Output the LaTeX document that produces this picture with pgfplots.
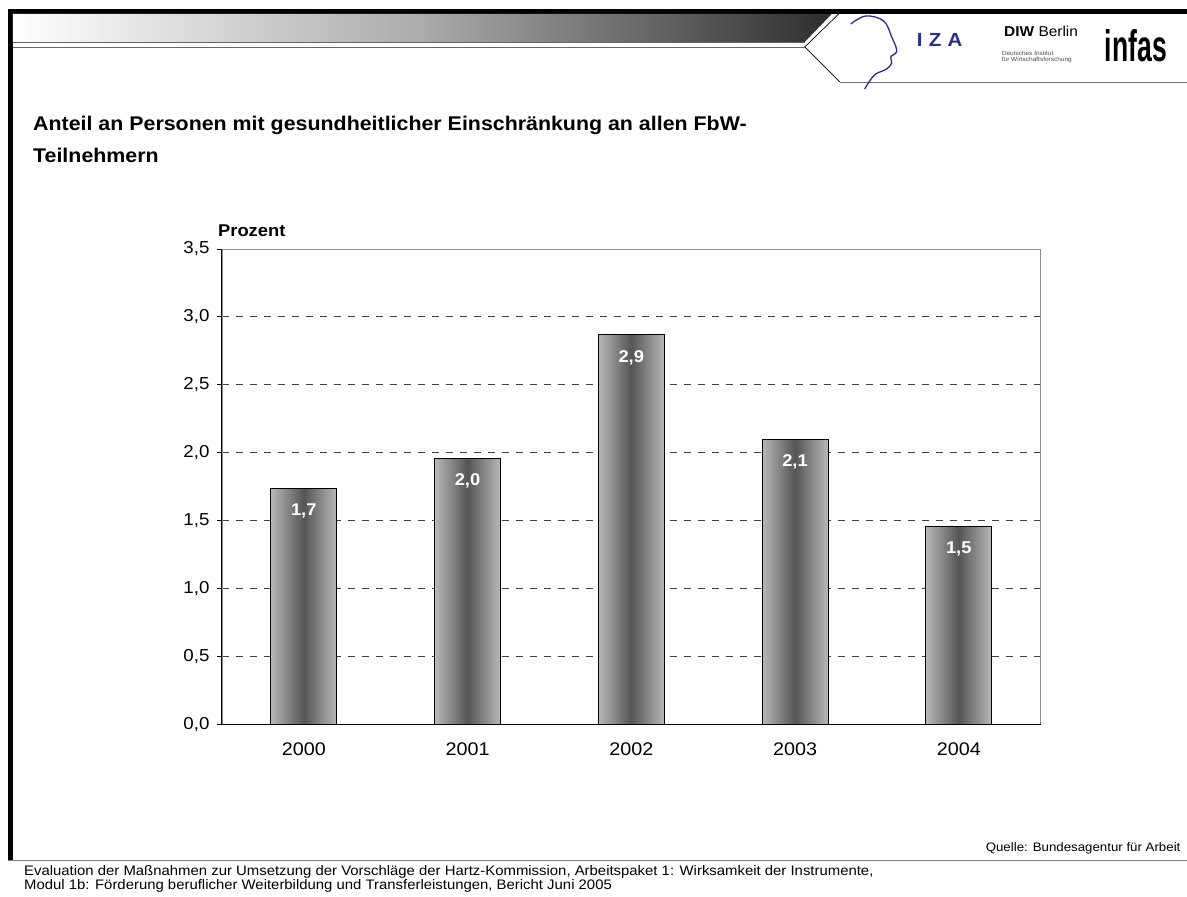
\documentclass[border=0pt]{standalone}
\usepackage{fontspec}
\setmainfont{Liberation Sans}[FakeStretch=1.08]
\usepackage{pgfplots}
\pgfplotsset{compat=1.18}
\usepackage{graphicx}

\definecolor{barEdge}{HTML}{B8B8B8}
\definecolor{barMid}{HTML}{555555}
\definecolor{izaBlue}{HTML}{2A2F8F}

\pgfplotsset{gradbar/.style={ybar, bar width=66pt, draw=black, line width=0.8pt,
  left color=barEdge, right color=barEdge, middle color=barMid,
  nodes near coords, point meta=explicit symbolic,
  every node near coord/.append style={anchor=north, yshift=-12pt, text=white,
    font=\fontsize{17}{18}\selectfont\bfseries}}}

\begin{document}
\begin{tikzpicture}[x=1pt,y=1pt]
% canvas
\path[fill=white] (0,0) rectangle (1187,897);

% header frame
\fill[black] (8,883) rectangle (1187,888);
\fill[black] (8,36) rectangle (13,888);
\shade[left color=white, right color=black!82, middle color=black!33]
  (13,883) -- (832,883) -- (805,855) -- (13,855) -- cycle;
\draw[black!60, line width=1pt] (13,854.5) -- (805,854.5);
\draw[black!60, line width=1pt] (13,849.5) -- (805,849.5);
\draw[black, line width=0.7pt] (839,883) -- (805,850) -- (840,815);
\draw[black!55, line width=0.8pt] (840,815) -- (1187,815);
\draw[black!50, line width=0.6pt] (8,36) -- (1187,36);

% logos
\draw[izaBlue, line width=1.3pt] plot[smooth, tension=0.6] coordinates
  {(851,873) (866,881) (884,876) (892,860) (897,846) (891,840) (892,834) (887,828) (876,823) (870,816) (865,808)};
\node[izaBlue, font=\fontsize{19}{20}\selectfont\bfseries] at (940,857) {I\,\,Z\,\,A};
\node[anchor=base west, font=\fontsize{14.3}{16}\selectfont] at (1001,860) {\textbf{DIW} Berlin};
\node[anchor=base west, black!70, font=\fontsize{6}{7}\selectfont, align=left, inner sep=0pt] at (1002,835)
  {Deutsches Institut\\[-1pt]für Wirtschaftsforschung};
\node[anchor=south west, inner sep=0pt] at (1105,835) {\resizebox{62pt}{32pt}{\bfseries infas}};

% title
\node[anchor=base west, inner sep=0pt, font=\fontsize{19.8}{22}\selectfont\bfseries] at (33,766)
  {Anteil an Personen mit gesundheitlicher Einschränkung an allen FbW-};
\node[anchor=base west, inner sep=0pt, font=\fontsize{19.8}{22}\selectfont\bfseries] at (33,734)
  {Teilnehmern};
\node[anchor=base west, inner sep=0pt, font=\fontsize{17}{18}\selectfont\bfseries] at (218,660) {Prozent};

\begin{axis}[
  at={(222pt,172pt)}, anchor=south west,
  width=819pt, height=476pt, scale only axis,
  xmin=-0.5, xmax=4.5, ymin=0, ymax=3.5,
  axis line style={draw=black!45, line width=0.8pt},
  xtick={0,1,2,3,4},
  xticklabels={2000,2001,2002,2003,2004},
  major x tick style={draw=none},
  extra x ticks={-0.5,0.5,1.5,2.5,3.5,4.5},
  extra x tick labels={},
  extra x tick style={major tick length=6pt, tick align=outside, tick pos=bottom,
    major tick style={draw=black, line width=0.8pt}, grid=none},
  ytick={0,0.5,1,1.5,2,2.5,3,3.5},
  ytick pos=left, tick align=outside, major tick length=5pt,
  major y tick style={draw=black, line width=0.8pt},
  ymajorgrids=true,
  grid style={black!75, line width=0.9pt, dash pattern=on 7pt off 7pt},
  ticklabel style={font=\fontsize{17.3}{18}\selectfont},
  yticklabel style={xshift=-4pt, /pgf/number format/.cd, fixed, fixed zerofill, precision=1,
    use comma, assume math mode=true},
  xticklabel style={font=\fontsize{18.3}{19}\selectfont, yshift=-9pt},
  after end axis/.code={
    \draw[white, line width=1.6pt] (rel axis cs:0,1) -- (rel axis cs:1,1);
    \draw[black!45, line width=0.8pt] (rel axis cs:0,1) -- (rel axis cs:1,1) -- (rel axis cs:1,0);
    \draw[black, line width=1pt] (rel axis cs:0,1) -- (rel axis cs:0,0) -- (rel axis cs:1,0);
  },
]
\addplot[gradbar] coordinates {(0,1.74) [1,7]};
\addplot[gradbar] coordinates {(1,1.96) [2,0]};
\addplot[gradbar] coordinates {(2,2.87) [2,9]};
\addplot[gradbar] coordinates {(3,2.10) [2,1]};
\addplot[gradbar] coordinates {(4,1.46) [1,5]};
\end{axis}

% source and footer
\node[anchor=base east, inner sep=0pt, font=\fontsize{12.3}{13}\selectfont] at (1181,45)
  {Quelle: Bundesagentur für Arbeit};
\node[anchor=base west, inner sep=0pt, font=\fontsize{13.8}{14}\selectfont] at (24,21)
  {Evaluation der Maßnahmen zur Umsetzung der Vorschläge der Hartz-Kommission, Arbeitspaket 1: Wirksamkeit der Instrumente,};
\node[anchor=base west, inner sep=0pt, font=\fontsize{13.8}{14}\selectfont] at (24,7)
  {Modul 1b: Förderung beruflicher Weiterbildung und Transferleistungen, Bericht Juni 2005};
\end{tikzpicture}
\end{document}
